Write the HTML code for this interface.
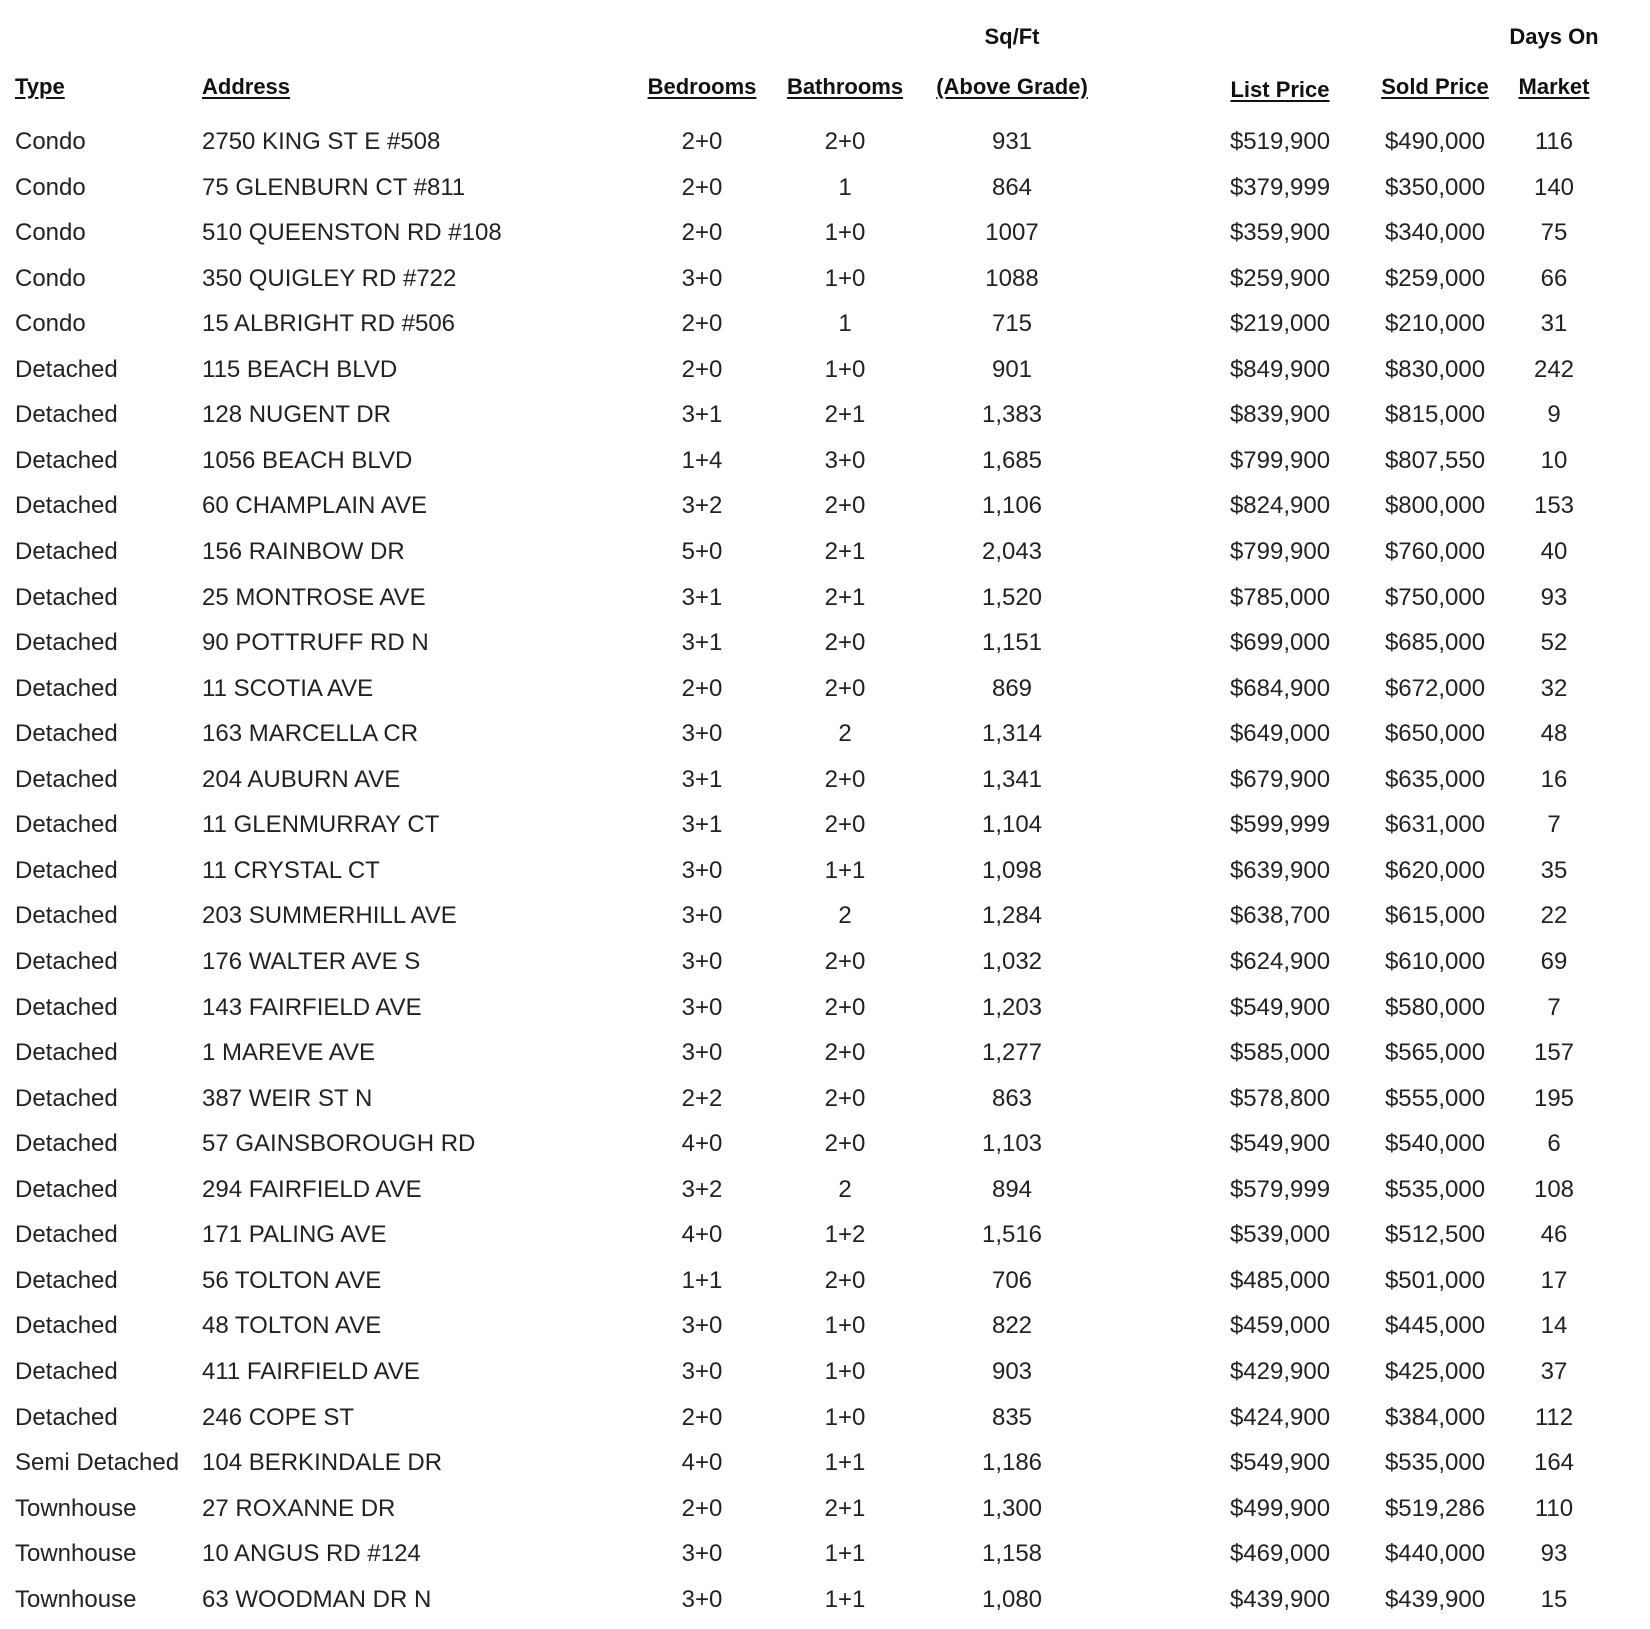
<!DOCTYPE html>
<html><head><meta charset="utf-8"><style>
body{margin:0;width:1650px;height:1629px;background:#fff;position:relative;overflow:hidden;font-family:"Liberation Sans",sans-serif;color:#222}
.r{position:absolute;left:0;width:1650px;height:30px;line-height:30px;font-size:24px}
.r span{position:absolute;top:0;white-space:nowrap}
.a{left:15px}.b{left:202px}
.c,.d,.e,.f,.g,.h{width:200px;text-align:center}
.c{left:602px}.d{left:745px}.e{left:912px}.f{left:1180px}.g{left:1335px}.h{left:1454px}
.hd{font-weight:bold;font-size:22px;color:#111}
.hd span u{text-decoration:underline;text-underline-offset:3px}
</style></head><body>
<div class="r hd" style="top:22px"><span class="e">Sq/Ft</span><span class="h">Days On</span></div>
<div class="r hd" style="top:72px"><span class="a"><u>Type</u></span><span class="b"><u>Address</u></span><span class="c"><u>Bedrooms</u></span><span class="d"><u>Bathrooms</u></span><span class="e"><u>(Above Grade)</u></span><span class="f" style="top:3px"><u>List Price</u></span><span class="g"><u>Sold Price</u></span><span class="h"><u>Market</u></span></div>
<div class="r" style="top:127px"><span class="a">Condo</span><span class="b">2750 KING ST E #508</span><span class="c">2+0</span><span class="d">2+0</span><span class="e">931</span><span class="f">$519,900</span><span class="g">$490,000</span><span class="h">116</span></div>
<div class="r" style="top:173px"><span class="a">Condo</span><span class="b">75 GLENBURN CT #811</span><span class="c">2+0</span><span class="d">1</span><span class="e">864</span><span class="f">$379,999</span><span class="g">$350,000</span><span class="h">140</span></div>
<div class="r" style="top:218px"><span class="a">Condo</span><span class="b">510 QUEENSTON RD #108</span><span class="c">2+0</span><span class="d">1+0</span><span class="e">1007</span><span class="f">$359,900</span><span class="g">$340,000</span><span class="h">75</span></div>
<div class="r" style="top:264px"><span class="a">Condo</span><span class="b">350 QUIGLEY RD #722</span><span class="c">3+0</span><span class="d">1+0</span><span class="e">1088</span><span class="f">$259,900</span><span class="g">$259,000</span><span class="h">66</span></div>
<div class="r" style="top:309px"><span class="a">Condo</span><span class="b">15 ALBRIGHT RD #506</span><span class="c">2+0</span><span class="d">1</span><span class="e">715</span><span class="f">$219,000</span><span class="g">$210,000</span><span class="h">31</span></div>
<div class="r" style="top:355px"><span class="a">Detached</span><span class="b">115 BEACH BLVD</span><span class="c">2+0</span><span class="d">1+0</span><span class="e">901</span><span class="f">$849,900</span><span class="g">$830,000</span><span class="h">242</span></div>
<div class="r" style="top:400px"><span class="a">Detached</span><span class="b">128 NUGENT DR</span><span class="c">3+1</span><span class="d">2+1</span><span class="e">1,383</span><span class="f">$839,900</span><span class="g">$815,000</span><span class="h">9</span></div>
<div class="r" style="top:446px"><span class="a">Detached</span><span class="b">1056 BEACH BLVD</span><span class="c">1+4</span><span class="d">3+0</span><span class="e">1,685</span><span class="f">$799,900</span><span class="g">$807,550</span><span class="h">10</span></div>
<div class="r" style="top:491px"><span class="a">Detached</span><span class="b">60 CHAMPLAIN AVE</span><span class="c">3+2</span><span class="d">2+0</span><span class="e">1,106</span><span class="f">$824,900</span><span class="g">$800,000</span><span class="h">153</span></div>
<div class="r" style="top:537px"><span class="a">Detached</span><span class="b">156 RAINBOW DR</span><span class="c">5+0</span><span class="d">2+1</span><span class="e">2,043</span><span class="f">$799,900</span><span class="g">$760,000</span><span class="h">40</span></div>
<div class="r" style="top:583px"><span class="a">Detached</span><span class="b">25 MONTROSE AVE</span><span class="c">3+1</span><span class="d">2+1</span><span class="e">1,520</span><span class="f">$785,000</span><span class="g">$750,000</span><span class="h">93</span></div>
<div class="r" style="top:628px"><span class="a">Detached</span><span class="b">90 POTTRUFF RD N</span><span class="c">3+1</span><span class="d">2+0</span><span class="e">1,151</span><span class="f">$699,000</span><span class="g">$685,000</span><span class="h">52</span></div>
<div class="r" style="top:674px"><span class="a">Detached</span><span class="b">11 SCOTIA AVE</span><span class="c">2+0</span><span class="d">2+0</span><span class="e">869</span><span class="f">$684,900</span><span class="g">$672,000</span><span class="h">32</span></div>
<div class="r" style="top:719px"><span class="a">Detached</span><span class="b">163 MARCELLA CR</span><span class="c">3+0</span><span class="d">2</span><span class="e">1,314</span><span class="f">$649,000</span><span class="g">$650,000</span><span class="h">48</span></div>
<div class="r" style="top:765px"><span class="a">Detached</span><span class="b">204 AUBURN AVE</span><span class="c">3+1</span><span class="d">2+0</span><span class="e">1,341</span><span class="f">$679,900</span><span class="g">$635,000</span><span class="h">16</span></div>
<div class="r" style="top:810px"><span class="a">Detached</span><span class="b">11 GLENMURRAY CT</span><span class="c">3+1</span><span class="d">2+0</span><span class="e">1,104</span><span class="f">$599,999</span><span class="g">$631,000</span><span class="h">7</span></div>
<div class="r" style="top:856px"><span class="a">Detached</span><span class="b">11 CRYSTAL CT</span><span class="c">3+0</span><span class="d">1+1</span><span class="e">1,098</span><span class="f">$639,900</span><span class="g">$620,000</span><span class="h">35</span></div>
<div class="r" style="top:901px"><span class="a">Detached</span><span class="b">203 SUMMERHILL AVE</span><span class="c">3+0</span><span class="d">2</span><span class="e">1,284</span><span class="f">$638,700</span><span class="g">$615,000</span><span class="h">22</span></div>
<div class="r" style="top:947px"><span class="a">Detached</span><span class="b">176 WALTER AVE S</span><span class="c">3+0</span><span class="d">2+0</span><span class="e">1,032</span><span class="f">$624,900</span><span class="g">$610,000</span><span class="h">69</span></div>
<div class="r" style="top:993px"><span class="a">Detached</span><span class="b">143 FAIRFIELD AVE</span><span class="c">3+0</span><span class="d">2+0</span><span class="e">1,203</span><span class="f">$549,900</span><span class="g">$580,000</span><span class="h">7</span></div>
<div class="r" style="top:1038px"><span class="a">Detached</span><span class="b">1 MAREVE AVE</span><span class="c">3+0</span><span class="d">2+0</span><span class="e">1,277</span><span class="f">$585,000</span><span class="g">$565,000</span><span class="h">157</span></div>
<div class="r" style="top:1084px"><span class="a">Detached</span><span class="b">387 WEIR ST N</span><span class="c">2+2</span><span class="d">2+0</span><span class="e">863</span><span class="f">$578,800</span><span class="g">$555,000</span><span class="h">195</span></div>
<div class="r" style="top:1129px"><span class="a">Detached</span><span class="b">57 GAINSBOROUGH RD</span><span class="c">4+0</span><span class="d">2+0</span><span class="e">1,103</span><span class="f">$549,900</span><span class="g">$540,000</span><span class="h">6</span></div>
<div class="r" style="top:1175px"><span class="a">Detached</span><span class="b">294 FAIRFIELD AVE</span><span class="c">3+2</span><span class="d">2</span><span class="e">894</span><span class="f">$579,999</span><span class="g">$535,000</span><span class="h">108</span></div>
<div class="r" style="top:1220px"><span class="a">Detached</span><span class="b">171 PALING AVE</span><span class="c">4+0</span><span class="d">1+2</span><span class="e">1,516</span><span class="f">$539,000</span><span class="g">$512,500</span><span class="h">46</span></div>
<div class="r" style="top:1266px"><span class="a">Detached</span><span class="b">56 TOLTON AVE</span><span class="c">1+1</span><span class="d">2+0</span><span class="e">706</span><span class="f">$485,000</span><span class="g">$501,000</span><span class="h">17</span></div>
<div class="r" style="top:1311px"><span class="a">Detached</span><span class="b">48 TOLTON AVE</span><span class="c">3+0</span><span class="d">1+0</span><span class="e">822</span><span class="f">$459,000</span><span class="g">$445,000</span><span class="h">14</span></div>
<div class="r" style="top:1357px"><span class="a">Detached</span><span class="b">411 FAIRFIELD AVE</span><span class="c">3+0</span><span class="d">1+0</span><span class="e">903</span><span class="f">$429,900</span><span class="g">$425,000</span><span class="h">37</span></div>
<div class="r" style="top:1403px"><span class="a">Detached</span><span class="b">246 COPE ST</span><span class="c">2+0</span><span class="d">1+0</span><span class="e">835</span><span class="f">$424,900</span><span class="g">$384,000</span><span class="h">112</span></div>
<div class="r" style="top:1448px"><span class="a">Semi Detached</span><span class="b">104 BERKINDALE DR</span><span class="c">4+0</span><span class="d">1+1</span><span class="e">1,186</span><span class="f">$549,900</span><span class="g">$535,000</span><span class="h">164</span></div>
<div class="r" style="top:1494px"><span class="a">Townhouse</span><span class="b">27 ROXANNE DR</span><span class="c">2+0</span><span class="d">2+1</span><span class="e">1,300</span><span class="f">$499,900</span><span class="g">$519,286</span><span class="h">110</span></div>
<div class="r" style="top:1539px"><span class="a">Townhouse</span><span class="b">10 ANGUS RD #124</span><span class="c">3+0</span><span class="d">1+1</span><span class="e">1,158</span><span class="f">$469,000</span><span class="g">$440,000</span><span class="h">93</span></div>
<div class="r" style="top:1585px"><span class="a">Townhouse</span><span class="b">63 WOODMAN DR N</span><span class="c">3+0</span><span class="d">1+1</span><span class="e">1,080</span><span class="f">$439,900</span><span class="g">$439,900</span><span class="h">15</span></div>
</body></html>
